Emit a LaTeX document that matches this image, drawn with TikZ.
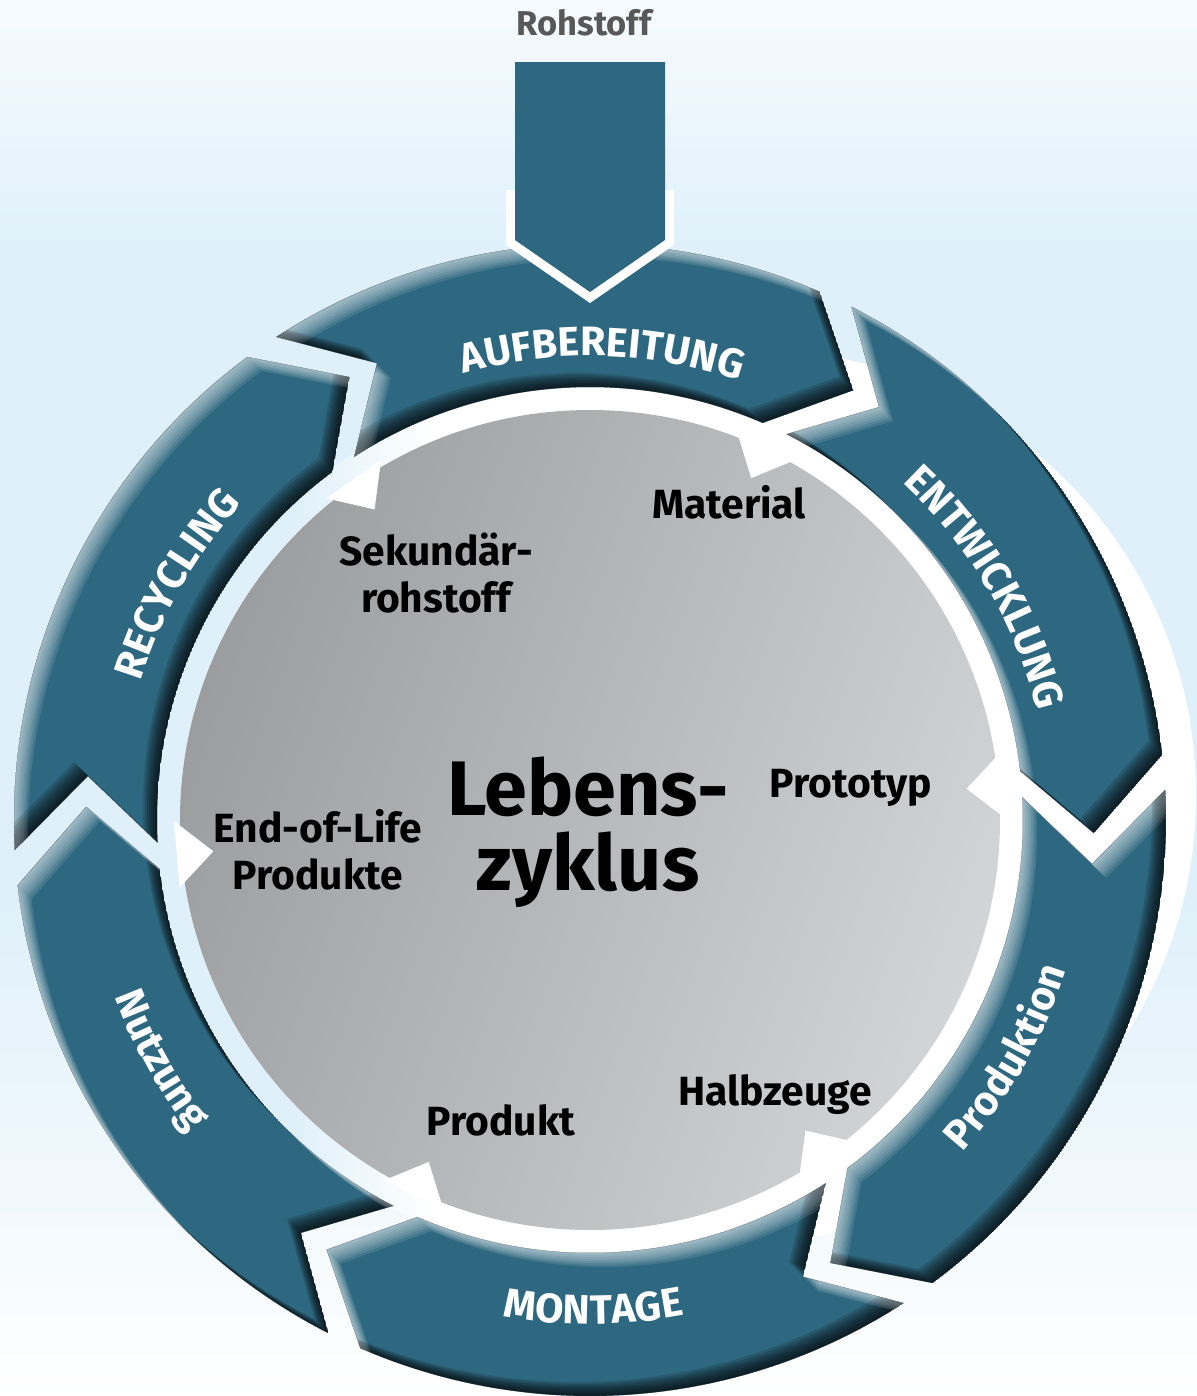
\documentclass[tikz,border=0pt]{standalone}
\usepackage{fontspec}
\setmainfont{Fira Sans}
\usetikzlibrary{decorations.text}

\definecolor{bgblue}{RGB}{223,240,250}
\definecolor{bgpale}{RGB}{238,247,252}
\definecolor{bgtop}{RGB}{246,251,254}
\definecolor{ringblue}{RGB}{46,104,128}
\definecolor{disklight}{RGB}{211,212,214}
\definecolor{diskdark}{RGB}{156,157,159}
\definecolor{rohgray}{RGB}{88,88,88}

\pgfdeclareverticalshading{bgfade}{100bp}{color(0bp)=(white); color(25bp)=(white);
  color(34bp)=(bgpale); color(43bp)=(bgblue); color(66bp)=(bgblue); color(75bp)=(bgtop); color(100bp)=(bgtop)}
\pgfdeclarehorizontalshading{bandfade}{100bp}{color(0bp)=(bgblue); color(33bp)=(bgblue);
  color(41bp)=(white); color(100bp)=(white)}

\newcommand\rIn{4.33}
\newcommand\rOut{5.76}
\newcommand\rMid{5.04}
% one ring arrow, head at \hdA, tail at \tlA, shifted by #1
\newcommand\segpath[1]{([shift={#1}]\tlA:\rOut) arc[start angle=\tlA, end angle=\hdA, radius=\rOut]
  -- ([shift={#1}]\tpA:\rMid) -- ([shift={#1}]\hdA:\rIn) arc[start angle=\hdA, end angle=\tlA, radius=\rIn]
  -- ([shift={#1}]\ntA:\rMid) -- cycle}

\tikzset{
  inlbl/.style={font=\fontsize{11.6}{13.5}\selectfont\bfseries, inner sep=0pt, align=center},
  ringlbl/.style={decorate, decoration={text along path, text align=center, text color=white,
    text={|\fontsize{11.7}{14}\selectfont\bfseries|#1}}},
}

\begin{document}
\begin{tikzpicture}
\useasboundingbox (0,0) rectangle (11.97,-13.96);
\shade[shading=bgfade] (0,0) rectangle (11.97,-13.96);
\fill[white] (7.50,-7.95) circle[radius=4.46];

\begin{scope}[shift={(5.90,-8.20)}]
  \shade[shading=bandfade] (0,0) circle[radius=4.36];
  \shade[top color=diskdark, bottom color=disklight, shading angle=70] (0,0) circle[radius=4.10];

  % white notches into the disk
  \foreach \hdA in {66.5,6.5,-53.5,-113.5,-173.5,126.5}
    \fill[white] ({\hdA-1.75+4.6}:4.16) -- ({\hdA-1.75}:3.78) -- ({\hdA-1.75-4.6}:4.16) -- cycle;

  % ring of arrows
  \foreach \hdA in {66.5,6.5,-53.5,-113.5,-173.5,126.5} {
    \pgfmathsetmacro\tlA{\hdA+56.5}
    \pgfmathsetmacro\tpA{\hdA-8}
    \pgfmathsetmacro\ntA{\hdA+48.5}
    \begin{scope}
      \clip \segpath{(0,0)};
      \fill[ringblue] \segpath{(0,0)};
      \foreach \sh in {0.02,0.04,0.06,0.08,0.10,0.12,0.14} {
        \fill[black, opacity=.15, even odd rule] \segpath{(0,0)} \segpath{(-\sh,\sh)};
        \fill[white, opacity=.10, even odd rule] \segpath{(0,0)} \segpath{(\sh,-\sh)};
      }
    \end{scope}
  }

  \path[ringlbl=AUFBEREITUNG] (148.5:4.64) arc[start angle=148.5, end angle=28.5, radius=4.64];
  \path[ringlbl=ENTWICKLUNG] (90.5:4.60) arc[start angle=90.5, end angle=-29.5, radius=4.60];
  \path[ringlbl=RECYCLING] (210.3:4.70) arc[start angle=210.3, end angle=90.3, radius=4.70];
  \path[ringlbl=Produktion] (-89.6:4.99) arc[start angle=-89.6, end angle=30.4, radius=4.99];
  \path[ringlbl=MONTAGE] (-149.6:5.04) arc[start angle=-149.6, end angle=-29.6, radius=5.04];
  \path[ringlbl=Nutzung] (149.2:5.07) arc[start angle=149.2, end angle=269.2, radius=5.07];
\end{scope}

% Rohstoff input
\node[font=\fontsize{9.8}{12}\selectfont\bfseries, text=rohgray, inner sep=0pt, anchor=base] (rohstoff) at (5.84,-0.35) {Rohstoff};
\fill[white] (5.06,-1.90) -- (5.06,-2.45) -- (5.90,-3.03) -- (6.74,-2.45) -- (6.74,-1.90) -- cycle;
\fill[ringblue] (5.15,-0.62) -- (6.65,-0.62) -- (6.65,-2.40) -- (5.90,-2.92) -- (5.15,-2.40) -- cycle;

% labels in the disk
\node[inlbl, anchor=base] (material) at (7.29,-5.18) {Material};
\node[inlbl] (sekundaer) at (4.36,-5.73) {Sekundär-\\rohstoff};
\node[inlbl, anchor=base] (prototyp) at (8.51,-7.97) {Prototyp};
\node[inlbl] (endoflife) at (3.18,-8.50) {End-of-Life\\Produkte};
\node[inlbl, anchor=base] (halbzeuge) at (7.75,-11.05) {Halbzeuge};
\node[inlbl, anchor=base] (produkt) at (5.01,-11.35) {Produkt};
\node[font=\fontsize{22}{21.3}\selectfont\bfseries, inner sep=0pt, align=center] (zyklus) at (5.88,-8.32) {Lebens-\\zyklus};
\end{tikzpicture}
\end{document}
